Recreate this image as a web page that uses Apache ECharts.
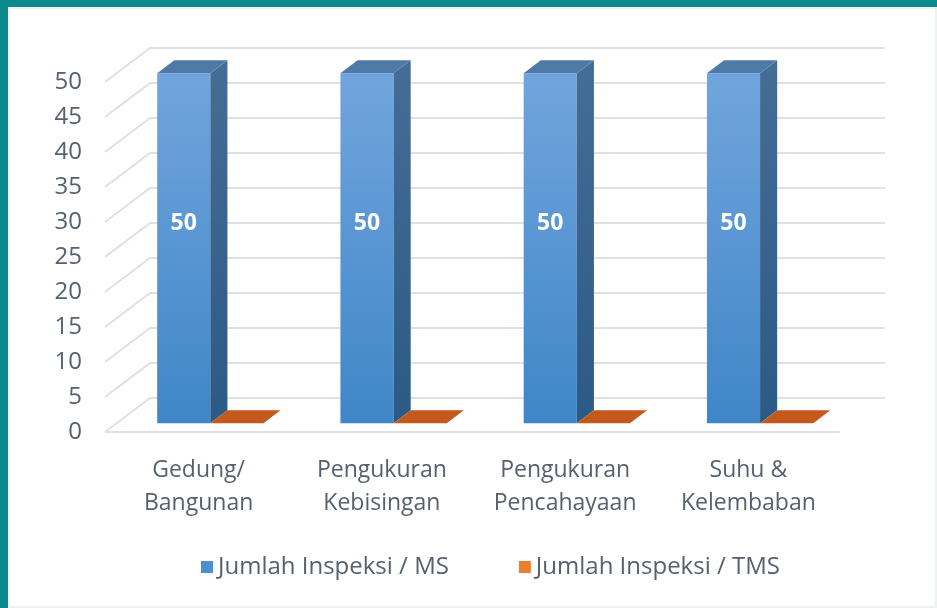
<!DOCTYPE html>
<html>
<head>
<meta charset="utf-8">
<script src="https://cdn.jsdelivr.net/npm/echarts@6/dist/echarts.min.js"></script>
<style>
  html, body { margin: 0; padding: 0; background: #0a8a8b; }
  #frame { position: absolute; left: 8px; top: 7px; width: 929px; height: 601px; background: #ffffff; box-shadow: inset 0 0 0 2px #eef0f3; }
  #chart { position: absolute; left: -8px; top: -7px; width: 937px; height: 608px; }
</style>
</head>
<body>
<div id="frame"><div id="chart"></div></div>
<script>
// Inspection categories and counts
const categories = ['Gedung/\nBangunan', 'Pengukuran\nKebisingan', 'Pengukuran\nPencahayaan', 'Suhu &\nKelembaban'];
const msValues = [50, 50, 50, 50];
const tmsValues = [0, 0, 0, 0];
const yTicks = [0, 5, 10, 15, 20, 25, 30, 35, 40, 45, 50];
const seriesNames = ['Jumlah Inspeksi / MS', 'Jumlah Inspeksi / TMS'];

// Pseudo-3D depth: offset from the front plane to the back wall
const DX = 45, DY = -34;
const BAR_FRONT = 0.26, BAR_BACK = 0.64;   // bar depth as fraction of the box depth
const BAR_RATIO = 0.29;                    // bar width as fraction of category band
const TEXT = '#56606e';
const GRID = '#dde1e7';

const chart = echarts.init(document.getElementById('chart'));

function renderWall(params, api) {
  const cs = params.coordSys;
  const v = api.value(0);
  const y = api.coord([0, v])[1];
  const xl = cs.x - 2, xr = cs.x + cs.width;
  const children = [{
    type: 'polyline',
    shape: { points: [[xl, y], [xl + DX, y + DY], [xr + DX, y + DY]] },
    style: { stroke: GRID, lineWidth: 2, fill: null }
  }];
  if (v === 0) {
    children.push({
      type: 'line',
      shape: { x1: xl, y1: y, x2: xr, y2: y },
      style: { stroke: GRID, lineWidth: 2 }
    });
  }
  return { type: 'group', children };
}

function makeBarRenderer(side, colors) {
  return function (params, api) {
    const idx = api.value(0);
    const v = api.value(1);
    const band = api.size([1, 0])[0];
    const bw = band * BAR_RATIO;
    const top = api.coord([idx, v]);
    const base = api.coord([idx, 0]);
    const x0 = top[0] - bw + side * bw + BAR_FRONT * DX;
    const yTop = top[1] + BAR_FRONT * DY;
    const yBot = base[1] + BAR_FRONT * DY;
    const ddx = (BAR_BACK - BAR_FRONT) * DX;
    const ddy = (BAR_BACK - BAR_FRONT) * DY;
    const children = [];
    if (yBot - yTop > 0.5) {
      children.push({
        type: 'rect',
        shape: { x: x0, y: yTop, width: bw, height: yBot - yTop },
        style: { fill: new echarts.graphic.LinearGradient(0, 0, 0, 1, [
          { offset: 0, color: colors.frontTop }, { offset: 1, color: colors.frontBottom }]) }
      });
      children.push({
        type: 'polygon',
        shape: { points: [[x0 + bw, yTop], [x0 + bw + ddx, yTop + ddy], [x0 + bw + ddx, yBot + ddy], [x0 + bw, yBot]] },
        style: { fill: new echarts.graphic.LinearGradient(0, 0, 0, 1, [
          { offset: 0, color: colors.sideTop }, { offset: 1, color: colors.sideBottom }]) }
      });
    }
    children.push({
      type: 'polygon',
      shape: { points: [[x0, yTop], [x0 + ddx, yTop + ddy], [x0 + bw + ddx, yTop + ddy], [x0 + bw, yTop]] },
      style: { fill: colors.top }
    });
    if (v > 0) {
      children.push({
        type: 'text',
        style: {
          text: String(v), x: x0 + bw / 2, y: yTop + (yBot - yTop) * 0.43,
          fill: '#ffffff', font: 'bold 23px "Open Sans", sans-serif',
          align: 'center', verticalAlign: 'middle'
        }
      });
    }
    return { type: 'group', children };
  };
}

chart.setOption({
  animation: false,
  backgroundColor: 'transparent',
  grid: { left: 107, right: 97, top: 82, bottom: 176 },
  xAxis: {
    type: 'category',
    data: categories,
    axisLine: { show: false },
    axisTick: { show: false },
    axisLabel: {
      color: TEXT, fontSize: 23, fontFamily: 'Open Sans', lineHeight: 33,
      margin: 22, interval: 0
    }
  },
  yAxis: {
    type: 'value',
    min: 0, max: 50, interval: 5,
    axisLine: { show: false },
    axisTick: { show: false },
    splitLine: { show: false },
    axisLabel: { color: TEXT, fontSize: 24, fontFamily: 'Open Sans', margin: 25 }
  },
  legend: {
    left: 196, top: 550,
    itemGap: 70, itemWidth: 12, itemHeight: 12, icon: 'rect',
    textStyle: { color: TEXT, fontSize: 24, fontFamily: 'Open Sans' },
    data: seriesNames
  },
  series: [
    {
      type: 'custom', name: 'walls', silent: true, z: 1,
      renderItem: renderWall,
      data: yTicks.map(v => [v])
    },
    {
      type: 'custom', name: seriesNames[0], z: 2,
      itemStyle: { color: '#4a8fd4' },
      renderItem: makeBarRenderer(0, {
        frontTop: '#71a5dd', frontBottom: '#3f86c8',
        sideTop: '#456d96', sideBottom: '#2b5a86', top: '#4f7aa7'
      }),
      encode: { x: 0, y: 1 },
      data: msValues.map((v, i) => [i, v])
    },
    {
      type: 'custom', name: seriesNames[1], z: 3,
      itemStyle: { color: '#ed7d31' },
      renderItem: makeBarRenderer(1, {
        frontTop: '#ed7d31', frontBottom: '#d0651c',
        sideTop: '#b5561a', sideBottom: '#9c4714', top: '#c4591c'
      }),
      encode: { x: 0, y: 1 },
      data: tmsValues.map((v, i) => [i, v])
    }
  ]
});
</script>
</body>
</html>
